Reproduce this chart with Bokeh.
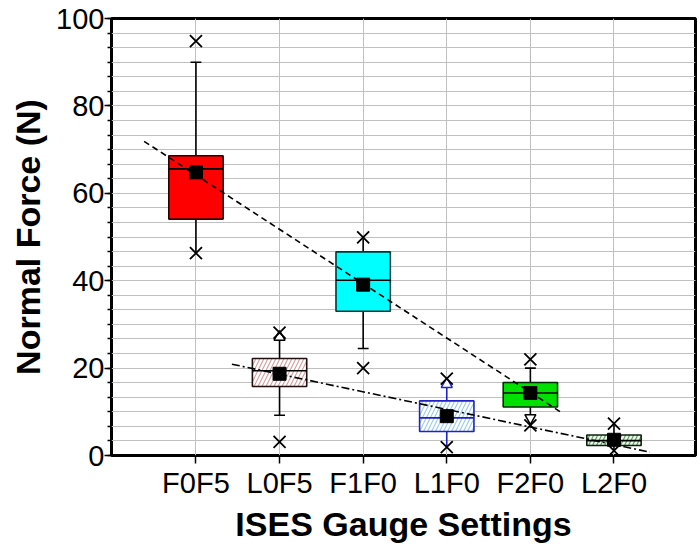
import numpy as np
from bokeh.plotting import figure
from bokeh.models import Range1d, FixedTicker, SingleIntervalTicker, ColumnDataSource, Title
from bokeh.embed import file_html
from bokeh.resources import INLINE

# ---- data ----
categories = ["F0F5", "L0F5", "F1F0", "L1F0", "F2F0", "L2F0"]
q1       = [54.1, 15.8, 33.0, 5.5, 11.1, 2.3]
median   = [65.6, 19.4, 40.1, 8.6, 14.3, 3.4]
q3       = [68.6, 22.2, 46.6, 12.5, 16.7, 4.7]
mean     = [64.8, 18.7, 39.1, 9.0, 14.3, 3.6]
whisk_lo = [46.3, 9.2, 24.5, 2.2, 8.6, 1.2]
whisk_hi = [90.0, 27.1, 49.6, 16.3, 20.0, 7.0]
pct_1    = [46.3, 3.1, 20.0, 1.9, 6.9, 1.1]
pct_99   = [94.8, 28.1, 49.9, 17.6, 22.0, 7.3]
hi_end   = ["cap", "triangle", "none", "triangle", "cap", "none"]
lo_end   = ["none", "cap", "cap", "none", "triangle", "none"]

fill_colors  = ["#FF0000", "#FFFFFF", "#00FFFF", "#FFFFFF", "#00E000", "#EEF6EE"]
edge_colors  = ["#2A0000", "#201010", "#003838", "#2020C8", "#002A00", "#102010"]
hatch_pats   = [" ", "/", " ", "/", " ", "/"]
hatch_colors = ["#FF0000", "#D4A0A0", "#00FFFF", "#9CCCEC", "#00E000", "#5E9E5E"]
whisk_colors = ["#000000", "#000000", "#000000", "#2020C8", "#000000", "#000000"]

# fitted trend lines (end points)
trend_f_x = [0.38, 5.39]
trend_f_y = [71.9, 9.6]
trend_l_x = [1.43, 6.43]
trend_l_y = [20.9, 0.76]

y_ticks_interval = 20

# ---- build ----
x = np.arange(1, len(categories) + 1, dtype=float)
box_w = 0.65
cap_w = 0.13

src = ColumnDataSource(dict(
    x=x, q1=q1, q3=q3, med=median, mean=mean, wlo=whisk_lo, whi=whisk_hi,
    fill=fill_colors, edge=edge_colors, hp=hatch_pats, hc=hatch_colors,
    wc=whisk_colors, mx0=x - box_w / 2, mx1=x + box_w / 2,
))

p = figure(width=700, height=552, x_range=Range1d(-0.01, 6.975), y_range=Range1d(0, 100),
           output_backend="svg", toolbar_location=None,
           min_border_left=111, min_border_right=5, min_border_top=18, min_border_bottom=97)
p.background_fill_color = "white"
p.border_fill_color = "white"
p.outline_line_color = "black"
p.outline_line_width = 3

yt = SingleIntervalTicker(interval=y_ticks_interval, num_minor_ticks=6)
xt = FixedTicker(ticks=list(x), minor_ticks=[])
p.yaxis.ticker = yt
p.xaxis.ticker = xt
p.xaxis.major_label_overrides = {int(xi): c for xi, c in zip(x, categories)}
p.ygrid.ticker = yt
p.xgrid.ticker = xt
grid_c = "#C0C0C0"
p.ygrid.grid_line_color = grid_c
p.ygrid.minor_grid_line_color = grid_c
p.xgrid.grid_line_color = grid_c
p.grid.grid_line_width = 1
p.ygrid.minor_grid_line_width = 1

for ax in (p.xaxis[0], p.yaxis[0]):
    ax.axis_line_color = None
    ax.major_tick_in = 0
    ax.minor_tick_in = 0
    ax.major_tick_line_width = 1.5
    ax.minor_tick_line_width = 1.5
    ax.major_tick_line_color = "black"
    ax.minor_tick_line_color = "black"
    ax.major_label_text_font = "Liberation Sans"
    ax.major_label_text_font_size = "29px"
    ax.major_label_text_color = "black"
    ax.axis_label_text_font = "Liberation Sans"
    ax.axis_label_text_font_style = "bold"
    ax.axis_label_text_font_size = "34px"
    ax.axis_label_text_color = "black"

p.yaxis.major_tick_out = 7
p.yaxis.minor_tick_out = 4
p.yaxis.major_label_standoff = 0
p.yaxis.axis_label = "Normal Force (N)"
p.yaxis.axis_label_standoff = 6
p.xaxis.major_tick_out = 8
p.xaxis.major_label_standoff = 3

p.add_layout(Title(text="ISES Gauge Settings", align="center", offset=19, standoff=2,
                   text_font="Liberation Sans", text_font_style="bold",
                   text_font_size="34px", text_color="black"), "below")

# whiskers
p.segment(x0="x", y0="q3", x1="x", y1="whi", line_color="wc", line_width=1.6, source=src)
p.segment(x0="x", y0="q1", x1="x", y1="wlo", line_color="wc", line_width=1.6, source=src)

# boxes
p.vbar(x="x", width=box_w, bottom="q1", top="q3", fill_color="fill", line_color="edge",
       line_width=1.6, hatch_pattern="hp", hatch_color="hc", hatch_weight=1.2,
       hatch_scale=8, source=src)

# medians
p.segment(x0="mx0", y0="med", x1="mx1", y1="med", line_color="wc", line_width=1.6, source=src)

# whisker ends
for ends, vals, tri in ((hi_end, whisk_hi, "triangle"), (lo_end, whisk_lo, "inverted_triangle")):
    cx = [xi for xi, e in zip(x, ends) if e == "cap"]
    cy = [v for v, e in zip(vals, ends) if e == "cap"]
    p.segment(x0=[c - cap_w / 2 for c in cx], y0=cy, x1=[c + cap_w / 2 for c in cx], y1=cy,
              line_color="black", line_width=1.6)
    tx = [xi for xi, e in zip(x, ends) if e == "triangle"]
    ty = [v for v, e in zip(vals, ends) if e == "triangle"]
    tc = [c for c, e in zip(whisk_colors, ends) if e == "triangle"]
    p.scatter(x=tx, y=ty, marker=tri, size=11, fill_color="white", line_color=tc, line_width=1.5)

# percentile crosses
p.scatter(x=x, y=pct_99, marker="x", size=17, line_color="black", line_width=1.8)
p.scatter(x=x, y=pct_1, marker="x", size=17, line_color="black", line_width=1.8)

# trend lines
p.line(trend_f_x, trend_f_y, line_color="black", line_width=1.6, line_dash="6 4")
p.line(trend_l_x, trend_l_y, line_color="black", line_width=1.6, line_dash="8 3 2 3")

# means
p.scatter(x="x", y="mean", marker="square", size=13, fill_color="black", line_color="black",
          source=src)

open("out.html", "w").write(file_html(p, INLINE))
